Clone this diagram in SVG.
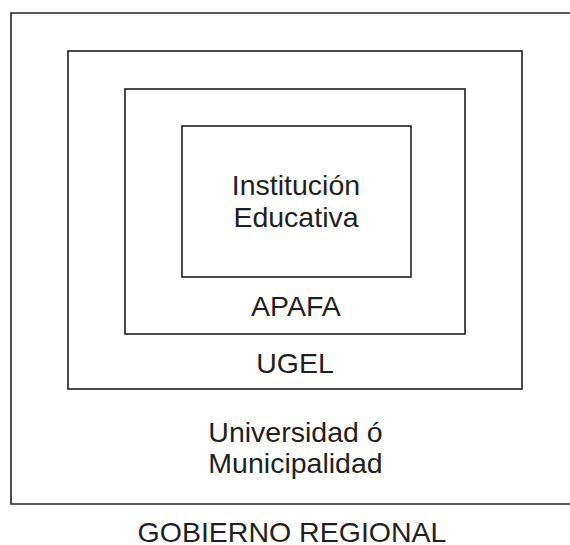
<svg xmlns="http://www.w3.org/2000/svg" width="570" height="545" viewBox="0 0 570 545">
<style>
.box{fill:none;stroke:#231f20;stroke-width:1.6}
.t{font-family:"Liberation Sans",Arial,sans-serif;font-size:28.5px;fill:#231f20;text-anchor:middle}
</style>
<rect width="570" height="545" fill="#fff"/>
<g id="gobierno">
<path class="box" d="M575,13 H11 V504 H575"/>
<text class="t" x="292" y="541.5">GOBIERNO REGIONAL</text>
</g>
<g id="universidad">
<rect class="box" x="68" y="51" width="454" height="338"/>
<text class="t" x="295.5" y="442">Universidad ó</text>
<text class="t" x="295.5" y="473">Municipalidad</text>
</g>
<g id="ugel">
<rect class="box" x="125" y="89" width="340" height="245"/>
<text class="t" x="295" y="373">UGEL</text>
</g>
<g id="apafa">
<rect class="box" x="182" y="126" width="229" height="151"/>
<text class="t" x="296" y="316">APAFA</text>
</g>
<g id="institucion">
<text class="t" x="296" y="195">Institución</text>
<text class="t" x="296" y="227">Educativa</text>
</g>
<g id="connectors"/>
</svg>
